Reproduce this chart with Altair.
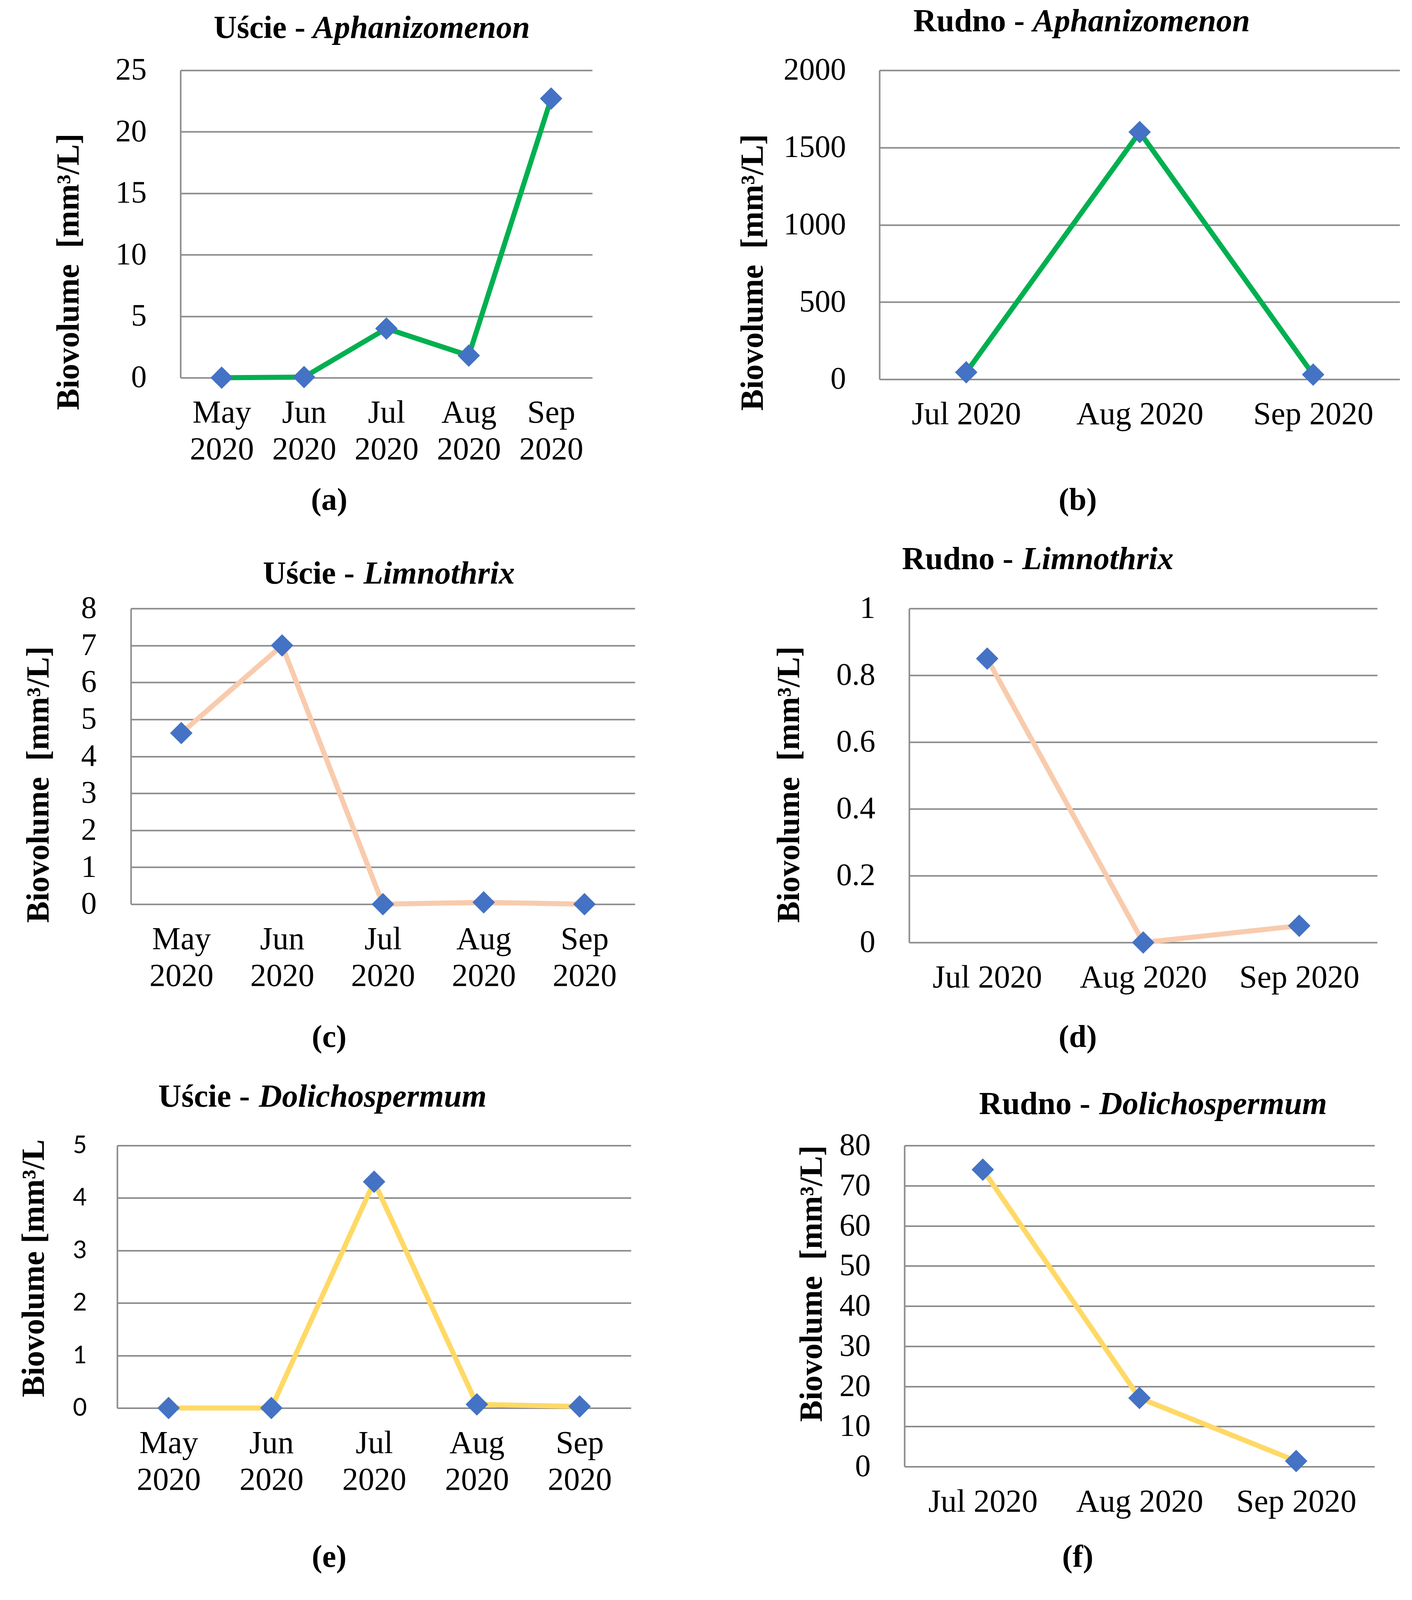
import altair as alt
import pandas as pd

# ---------------- data ----------------
months5 = ["May 2020", "Jun 2020", "Jul 2020", "Aug 2020", "Sep 2020"]
months3 = ["Jul 2020", "Aug 2020", "Sep 2020"]

uscie_aphanizomenon = [0.0, 0.05, 4.0, 1.8, 22.7]
rudno_aphanizomenon = [45, 1600, 30]
uscie_limnothrix = [4.63, 7.0, 0.0, 0.05, 0.0]
rudno_limnothrix = [0.85, 0.0, 0.05]
uscie_dolichospermum = [0.0, 0.0, 4.31, 0.07, 0.03]
rudno_dolichospermum = [74.0, 17.1, 1.4]

ticks_a = [0, 5, 10, 15, 20, 25]
ticks_b = [0, 500, 1000, 1500, 2000]
ticks_c = [0, 1, 2, 3, 4, 5, 6, 7, 8]
ticks_d = [0, 0.2, 0.4, 0.6, 0.8, 1]
ticks_e = [0, 1, 2, 3, 4, 5]
ticks_f = [0, 10, 20, 30, 40, 50, 60, 70, 80]

sites = ["Uście -", "Rudno -", "Uście -", "Rudno -", "Uście -", "Rudno -"]
genera = ["Aphanizomenon", "Aphanizomenon", "Limnothrix", "Limnothrix",
          "Dolichospermum", "Dolichospermum"]
subcaptions = ["(a)", "(b)", "(c)", "(d)", "(e)", "(f)"]
ytitle_main = "Biovolume\u00a0 [mm³/L]"
ytitle_e = "Biovolume [mm³/L"

# ---------------- style ----------------
SERIF = "Liberation Serif"
SANS = "Lato"
GREEN = "#00B050"
PEACH = "#F8CBAD"
YELLOW = "#FFD966"
MARKER = "#4472C4"
GRID = "#8C8C8C"

FS_TICK = 80
FS_XLAB = 82
FS_TITLE = 82
FS_YT = 82
FS_SUB = 80
FS_SANS = 62

# vertical compression so that the whole figure fits the photographed area
F = 0.785

# layout of each panel, in the reference figure's pixel frame
# L, R: plot left/right; T, B: plot top/bottom; p1: right end of the site text,
# p2: start of the genus text, bl: title baseline; ytx, yty: y-title centre;
# sx, sy: sub-caption centre; lp: tick-label padding
ref = {
    "a": dict(L=462, R=1516, T=230, B=1230, p1=781, p2=800, bl=121, ytx=175, yty=884, sx=842, sy=1630, lp=87),
    "b": dict(L=2251, R=3583, T=225, B=1235, p1=2622, p2=2643, bl=100, ytx=1927, yty=886, sx=2758, sy=1630, lp=86),
    "c": dict(L=335, R=1625, T=1988, B=2950, p1=907, p2=930, bl=1904, ytx=98, yty=2559, sx=842, sy=3384, lp=88),
    "d": dict(L=2327, R=3525, T=1983, B=3075, p1=2593, p2=2616, bl=1857, ytx=2020, yty=2559, sx=2758, sy=3384, lp=87),
    "e": dict(L=300, R=1615, T=3743, B=4587, p1=639, p2=662, bl=3604, ytx=86, yty=4131, sx=842, sy=5074, lp=78),
    "f": dict(L=2315, R=3518, T=3720, B=4778, p1=2790, p2=2813, bl=3628, ytx=2078, yty=4181, sx=2758, sy=5074, lp=87),
}
rows = [("a", "b"), ("c", "d"), ("e", "f")]


def make_layout(k, top_ref):
    r = ref[k]
    W = r["R"] - r["L"]
    H = round((r["B"] - top_ref) * F)
    return dict(
        W=W, H=H,
        t1x=r["p1"] - r["L"], t2x=r["p2"] - r["R"], ty=(r["bl"] - top_ref) * F,
        yx=r["ytx"] - r["L"], yy=(r["yty"] - top_ref) * F,
        sx=r["sx"] - r["L"], sy=(r["sy"] - top_ref) * F - H,
        lp=r["lp"],
    )


layouts = {}
row_tops = []
for a, b in rows:
    top_ref = (ref[a]["T"] + ref[b]["T"]) / 2
    row_tops.append(top_ref * F)
    layouts[a] = make_layout(a, top_ref)
    layouts[b] = make_layout(b, top_ref)


def top_ext(keys):
    return min(layouts[k]["ty"] - 0.8 * FS_TITLE for k in keys)


def bottom_ext(keys):
    return max(layouts[k]["H"] + layouts[k]["sy"] + 0.5 * FS_SUB for k in keys)


pad_top = max(0, row_tops[0] + top_ext(rows[0]) - 8)
sp12 = (row_tops[1] + top_ext(rows[1])) - (row_tops[0] + bottom_ext(rows[0]))
sp23 = (row_tops[2] + top_ext(rows[2])) - (row_tops[1] + bottom_ext(rows[1]))
row_spacing = (sp12 + sp23) / 2


def panel(months, values, ticks, fmt, color, site, genus, sub, ytitle, lay,
          two_line, label_font=SERIF, label_size=FS_TICK):
    df = pd.DataFrame({"month": months, "value": values})
    xscale = alt.Scale(type="point", padding=0.5)
    yscale = alt.Scale(domain=[ticks[0], ticks[-1]], nice=False, zero=True)

    xk = dict(orient="bottom", title=sub, titleFont=SERIF, titleFontSize=FS_SUB,
              titleFontWeight="bold", titleColor="black", titleX=lay["sx"],
              titleY=lay["sy"], titleAlign="center", titleBaseline="middle",
              titleAngle=0, titleLimit=3000,
              labelFont=SERIF, labelFontSize=FS_XLAB, labelColor="black",
              labelPadding=round(146 * F), labelBaseline="alphabetic",
              labelLineHeight=94, labelAlign="center", labelAngle=0,
              labelOverlap=False, labelLimit=2000, ticks=False, tickSize=0,
              domain=False, grid=False)
    if two_line:
        xk["labelExpr"] = "split(datum.label, ' ')"

    yk = dict(orient="left", values=ticks, format=fmt, title=ytitle,
              titleFont=SERIF, titleFontSize=FS_YT, titleFontWeight="bold",
              titleColor="black", titleAngle=270, titleX=lay["yx"],
              titleY=lay["yy"], titleAlign="center", titleBaseline="middle",
              titleLimit=3000,
              labelFont=label_font, labelFontSize=label_size, labelColor="black",
              labelPadding=lay["lp"], labelOverlap=False, labelLimit=1000,
              labelBaseline="middle",
              ticks=False, tickSize=0, domain=True, domainColor=GRID,
              domainWidth=4, grid=True, gridColor=GRID, gridWidth=4,
              gridOpacity=1)

    line = alt.Chart(df).mark_line(
        color=color, strokeWidth=13, strokeJoin="round", strokeCap="round"
    ).encode(
        x=alt.X("month:O", sort=months, scale=xscale, axis=alt.Axis(**xk)),
        y=alt.Y("value:Q", scale=yscale, axis=alt.Axis(**yk)),
    )

    pts = alt.Chart(df).mark_point(
        shape="diamond", filled=True, size=3300, color=MARKER, opacity=1
    ).encode(
        x=alt.X("month:O", sort=months, axis=alt.Axis(
            orient="top", title=site, titleFont=SERIF, titleFontSize=FS_TITLE,
            titleFontWeight="bold", titleColor="black", titleX=lay["t1x"],
            titleY=lay["ty"], titleAlign="right", titleBaseline="alphabetic",
            titleAngle=0, titleLimit=3000, labels=False, ticks=False,
            domain=False, grid=False)),
        y=alt.Y("value:Q", axis=alt.Axis(
            orient="right", title=genus, titleFont=SERIF, titleFontSize=FS_TITLE,
            titleFontWeight="bold", titleFontStyle="italic", titleColor="black",
            titleX=lay["t2x"], titleY=lay["ty"], titleAlign="left",
            titleBaseline="alphabetic", titleAngle=0, titleLimit=3000,
            labels=False, ticks=False, domain=False, grid=False)),
    )

    return alt.layer(line, pts).resolve_axis(x="independent", y="independent").properties(
        width=lay["W"], height=lay["H"]
    )


def spacer(w):
    return alt.Chart(pd.DataFrame({"s": [0]})).mark_point(opacity=0).properties(
        width=w, height=1, view=alt.ViewBackground(fill="white", stroke=None)
    )


pa = panel(months5, uscie_aphanizomenon, ticks_a, "d", GREEN, sites[0], genera[0],
           subcaptions[0], ytitle_main, layouts["a"], True)
pb = panel(months3, rudno_aphanizomenon, ticks_b, "d", GREEN, sites[1], genera[1],
           subcaptions[1], ytitle_main, layouts["b"], False)
pc = panel(months5, uscie_limnothrix, ticks_c, "d", PEACH, sites[2], genera[2],
           subcaptions[2], ytitle_main, layouts["c"], True)
pd_ = panel(months3, rudno_limnothrix, ticks_d, ".1~f", PEACH, sites[3], genera[3],
            subcaptions[3], ytitle_main, layouts["d"], False)
pe = panel(months5, uscie_dolichospermum, ticks_e, "d", YELLOW, sites[4], genera[4],
           subcaptions[4], ytitle_e, layouts["e"], True, label_font=SANS,
           label_size=FS_SANS)
pf = panel(months3, rudno_dolichospermum, ticks_f, "d", YELLOW, sites[5], genera[5],
           subcaptions[5], ytitle_main, layouts["f"], False)


def row(left_key, p_left, right_key, p_right):
    gap1 = ref[left_key]["L"] - 8
    gap2 = ref[right_key]["L"] - ref[left_key]["R"]
    return alt.hconcat(spacer(gap1), p_left, spacer(gap2), p_right,
                       spacing=0, bounds="flush")


row1 = row("a", pa, "b", pb)
row2 = row("c", pc, "d", pd_)
row3 = row("e", pe, "f", pf)

chart = alt.vconcat(row1, row2, row3, spacing=row_spacing).properties(
    padding={"left": 0, "top": pad_top, "right": 0, "bottom": 8},
    background="white",
).configure_view(stroke=None)

chart.save("out.html", embed_options={"renderer": "svg", "actions": False})
